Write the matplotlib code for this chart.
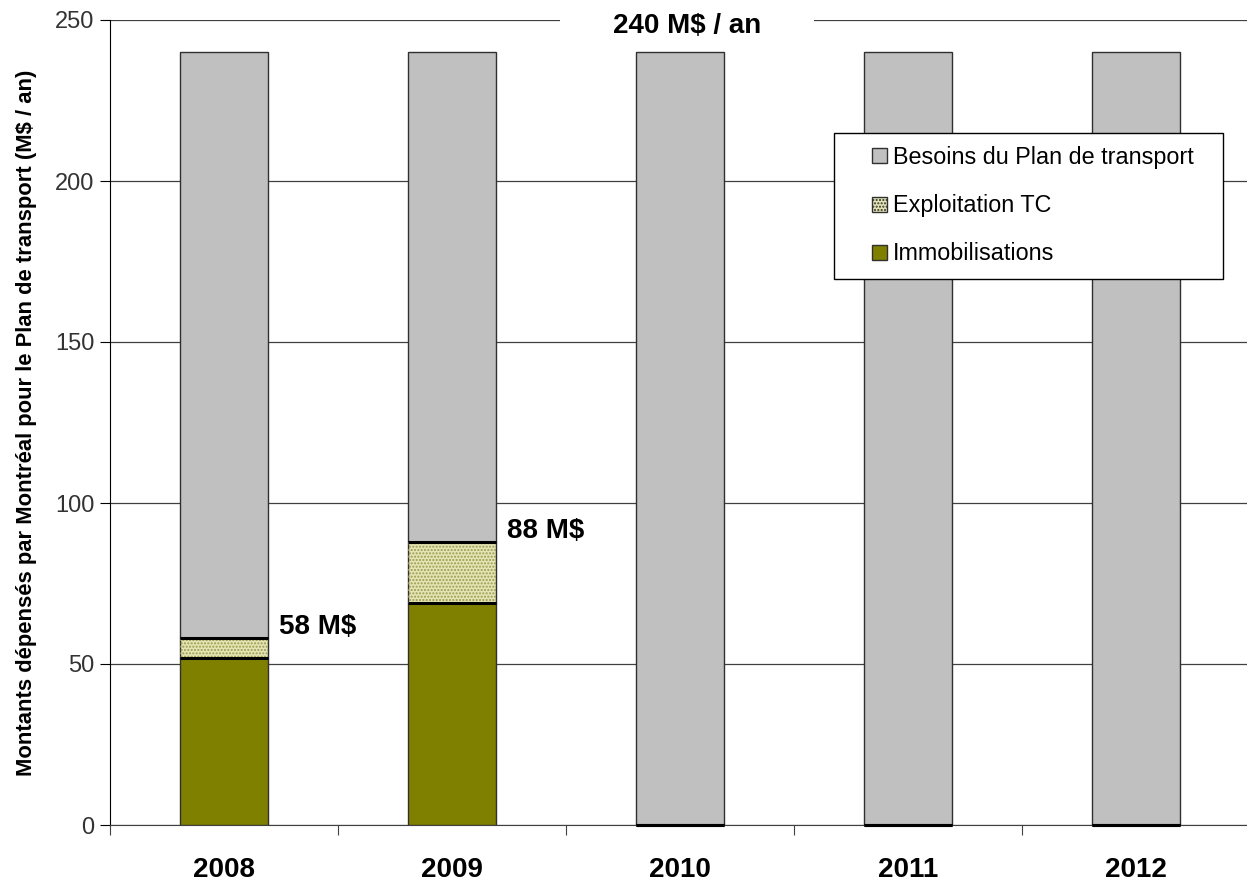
import numpy as np
import matplotlib
matplotlib.use("Agg")
import matplotlib.pyplot as plt
import matplotlib.patches as mpatches
from matplotlib.container import BarContainer
from matplotlib.legend_handler import HandlerPatch, update_from_first_child

# data (M$ / an)
years = ["2008", "2009", "2010", "2011", "2012"]
immobilisations = [52, 69, 0, 0, 0]
exploitation_tc = [6, 19, 0, 0, 0]
besoins_total = 240
annot_labels = ["58 M$", "88 M$", None, None, None]
y_ticks = [0, 50, 100, 150, 200, 250]

plt.rcParams['font.family'] = ['Liberation Sans', 'DejaVu Sans']

fig = plt.figure(figsize=(12.47, 8.81), dpi=100)
ax = fig.add_axes([110 / 1247, 1 - 825 / 881, 1140 / 1247, 805 / 881])

x = np.arange(len(years))
immo = np.array(immobilisations)
expl = np.array(exploitation_tc)
spent = immo + expl
besoins = besoins_total - spent
w = 0.39

c_grey = '#c0c0c0'
c_olive = '#808000'
c_expl = '#e4e4b4'

ax.bar(x, besoins, w, bottom=spent, color=c_grey, edgecolor='#303030',
       linewidth=1.0, zorder=3, label='Besoins du Plan de transport')
ax.bar(x, expl, w, bottom=immo, color=c_expl, edgecolor='#303030',
       linewidth=1.0, zorder=3, label='Exploitation TC')
# dotted texture of the exploitation segment
ax.bar(x, expl, w, bottom=immo, color='none', edgecolor='#9a9a50',
       linewidth=0, hatch='.....', zorder=3.5)
ax.bar(x, immo, w, color=c_olive, edgecolor='#303030', linewidth=1.0,
       zorder=3, label='Immobilisations')

# thick separators between segments
for xi, a, b in zip(x, immo, spent):
    ax.hlines([a, b], xi - w / 2, xi + w / 2, colors='black', linewidth=2.2,
              zorder=4, clip_on=False)

for xi, lab, b in zip(x, annot_labels, spent):
    if lab:
        ax.text(xi + 0.24, b + 1.2, lab, fontsize=20, fontweight='bold',
                ha='left', va='baseline', zorder=5)

# white gap on the top grid line, then the label
ax.text(2.03, 248, " " * 32, fontsize=20, ha='center', va='center', zorder=4.5,
        bbox=dict(facecolor='white', edgecolor='none', boxstyle='square,pad=0.1'))
ax.text(2.03, 248, f"{besoins_total} M$ / an", fontsize=20, fontweight='bold',
        ha='center', va='center', zorder=5)

ax.set_xlim(-0.5, len(years) - 0.5)
ax.set_ylim(0, 250)
ax.set_yticks(y_ticks)
ax.set_yticklabels([str(t) for t in y_ticks], fontsize=17, color='#333333')
ax.yaxis.grid(True, color='#404040', linewidth=0.9, zorder=1)
ax.set_axisbelow(True)

ax.set_xticks(np.arange(len(years) + 1) - 0.5)
ax.set_xticklabels([])
ax.set_xticks(x, minor=True)
ax.set_xticklabels(years, minor=True, fontsize=20, fontweight='bold')
ax.tick_params(axis='x', which='minor', length=0, pad=23)
ax.tick_params(axis='x', which='major', length=7, color='#404040', direction='out')
ax.tick_params(axis='y', length=7, direction='out', pad=4)

for s in ['top', 'right']:
    ax.spines[s].set_visible(False)
ax.spines['left'].set_color('black')
ax.spines['bottom'].set_color('#404040')

ax.set_ylabel("Montants dépensés par Montréal pour le Plan de transport (M$ / an)",
              fontsize=15.8, fontweight='bold', family='Liberation Sans')
ax.yaxis.set_label_coords(-0.064, 0.5)


def small_square(legend, orig_handle, xdescent, ydescent, width, height, fontsize):
    s = 10.8
    return mpatches.Rectangle((-xdescent + width - s, -ydescent + (height - s) / 2), s, s)


leg = ax.legend(loc='upper left', bbox_to_anchor=(0.635, 0.5, 0.341, 0.3596),
                mode='expand', fontsize=16.8,
                frameon=True, fancybox=False, edgecolor='black', framealpha=1,
                handlelength=1.72, handletextpad=0.26,
                labelspacing=1.08, borderpad=0.56, borderaxespad=0,
                handler_map={BarContainer: HandlerPatch(patch_func=small_square,
                                                        update_func=update_from_first_child)})
leg.get_frame().set_linewidth(1.0)
# hatch the exploitation handle too
leg.legend_handles[1].set_hatch('.....')

fig.savefig("out.png", dpi=100)
